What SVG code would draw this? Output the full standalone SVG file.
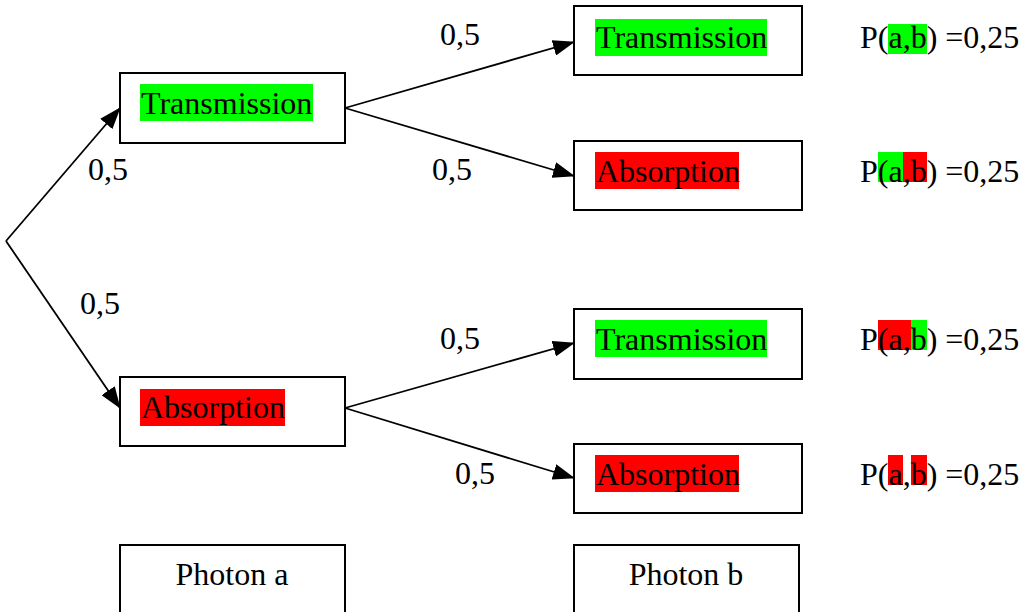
<svg xmlns="http://www.w3.org/2000/svg" width="1020" height="612" viewBox="0 0 1020 612">
<style>
text{font-family:"Liberation Serif","Times New Roman",Times,"DejaVu Serif",serif;font-size:32px;fill:#000}
.box{fill:#fff;stroke:#000;stroke-width:2}
.g{fill:#00ff00}
.r{fill:#ff0000}
.edge{stroke:#000;stroke-width:1.8;fill:none}
</style>
<defs>
<marker id="ah" viewBox="0 0 22 16" refX="21" refY="8" markerWidth="22" markerHeight="16" markerUnits="userSpaceOnUse" orient="auto">
<path d="M0,0 L22,8 L0,16 Z" fill="#000"/>
</marker>
</defs>
<rect width="1020" height="612" fill="#fff"/>
<g id="connectors">
<line class="edge" x1="6" y1="241" x2="120" y2="108" marker-end="url(#ah)"/>
<line class="edge" x1="6" y1="241" x2="120" y2="408" marker-end="url(#ah)"/>
<line class="edge" x1="345" y1="108" x2="574" y2="42" marker-end="url(#ah)"/>
<line class="edge" x1="345" y1="108" x2="574" y2="176" marker-end="url(#ah)"/>
<line class="edge" x1="345" y1="408" x2="574" y2="343" marker-end="url(#ah)"/>
<line class="edge" x1="345" y1="408" x2="574" y2="478" marker-end="url(#ah)"/>
</g>
<g id="edge-labels">
<text x="440" y="45">0,5</text>
<text x="88" y="180">0,5</text>
<text x="432" y="180">0,5</text>
<text x="80" y="314">0,5</text>
<text x="440" y="349">0,5</text>
<text x="455" y="484">0,5</text>
</g>
<g id="a-transmission">
<rect class="box" x="120" y="73" width="225" height="70"/>
<rect class="g" x="140" y="84" width="173" height="37"/>
<text x="141" y="114">Transmission</text>
</g>
<g id="a-absorption">
<rect class="box" x="120" y="377" width="225" height="69"/>
<rect class="r" x="140" y="389" width="145" height="37"/>
<text x="141" y="418">Absorption</text>
</g>
<g id="b-transmission-1">
<rect class="box" x="574" y="6" width="228" height="69"/>
<rect class="g" x="595" y="19" width="172" height="37"/>
<text x="596" y="48">Transmission</text>
</g>
<g id="b-absorption-1">
<rect class="box" x="574" y="141" width="228" height="69"/>
<rect class="r" x="595" y="152" width="144" height="37"/>
<text x="596" y="182">Absorption</text>
</g>
<g id="b-transmission-2">
<rect class="box" x="574" y="309" width="228" height="70"/>
<rect class="g" x="595" y="320" width="172" height="37"/>
<text x="596" y="350">Transmission</text>
</g>
<g id="b-absorption-2">
<rect class="box" x="574" y="444" width="228" height="69"/>
<rect class="r" x="595" y="455" width="144" height="37"/>
<text x="596" y="485">Absorption</text>
</g>
<g id="photon-a">
<rect class="box" x="120" y="545" width="225" height="80"/>
<text x="232" y="585" text-anchor="middle">Photon a</text>
</g>
<g id="photon-b">
<rect class="box" x="574" y="545" width="225" height="80"/>
<text x="686" y="585" text-anchor="middle">Photon b</text>
</g>
<g id="p1">
<rect class="g" x="888" y="24" width="39" height="30"/>
<text x="860" y="48">P(a,b) =0,25</text>
</g>
<g id="p2">
<rect class="g" x="878" y="152" width="25" height="30"/>
<rect class="r" x="903" y="152" width="24" height="30"/>
<text x="860" y="182">P(a,b) =0,25</text>
</g>
<g id="p3">
<rect class="r" x="878" y="320" width="33" height="30"/>
<rect class="g" x="911" y="320" width="16" height="30"/>
<text x="860" y="350">P(a,b) =0,25</text>
</g>
<g id="p4">
<rect class="r" x="888" y="455" width="15" height="30"/>
<rect class="r" x="911" y="455" width="16" height="30"/>
<text x="860" y="485">P(a,b) =0,25</text>
</g>
</svg>
